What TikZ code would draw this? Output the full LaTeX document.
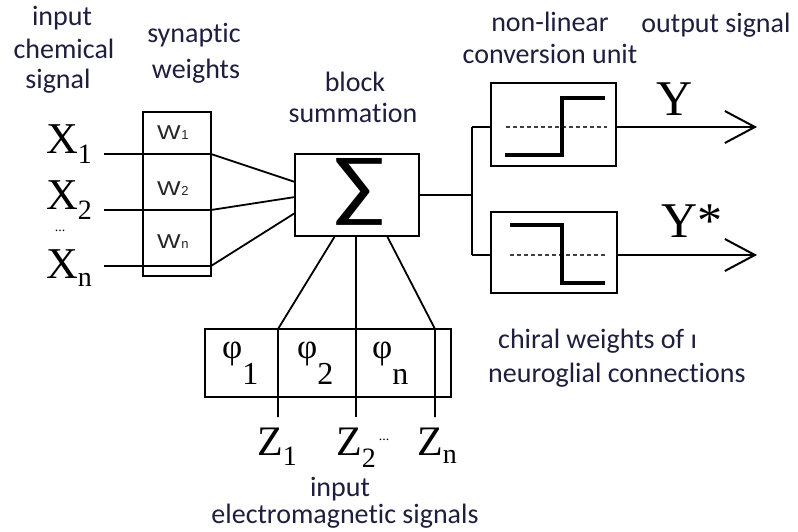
\documentclass[tikz,border=0pt]{standalone}
\usepackage{fontspec}
\setmainfont{Carlito}[Ligatures={NoCommon,NoContextual}]
\newfontfamily\serf{Liberation Serif}
\newfontfamily\sanw{Liberation Sans}
\usetikzlibrary{arrows.meta,calc}
\newcommand{\fs}[1]{\fontsize{#1}{#1}\selectfont}
\newcommand{\mysub}[2][10pt]{\raisebox{-#1}{\fs{28}#2}}
\newcommand{\wlet}[1]{\scalebox{1.25}[1]{W}\hspace{0.5pt}{\fs{13}#1}}
\definecolor{labelc}{RGB}{30,30,62}
\begin{document}
\begin{tikzpicture}[x=1pt,y=-1pt,
  box/.style={draw, line width=2pt, inner sep=0pt, outer sep=0pt},
  wire/.style={line width=1.8pt},
  stepline/.style={line width=3.5pt},
  dashline/.style={line width=1.2pt, black!75, dash pattern=on 4pt off 3pt},
  outarrow/.style={wire, -{Straight Barb[length=30pt,width=32pt,line width=2pt]}},
  lbl/.style={text=labelc, font=\fs{28}, inner sep=0pt, anchor=base},
  lblw/.style={lbl, anchor=base west},
  sym/.style={font=\serf\fs{44}, inner sep=0pt, anchor=base west},
  wlab/.style={font=\sanw\fs{20}, text=black!85, inner sep=0pt, anchor=base west}
]
\useasboundingbox[fill=white] (0,0) rectangle (798,531);

% labels
\node[lbl] (l1) at (62,25) {input};
\node[lbl] (l2) at (64,58) {chemical};
\node[lbl] (l3) at (58,88) {signal};
\node[lbl] (l4) at (194,42) {synaptic};
\node[lbl] (l5) at (196,78) {weights};
\node[lbl] (l6) at (355,91) {block};
\node[lbl] (l7) at (353,122) {summation};
\node[lbl] (l8) at (550,31) {non-linear};
\node[lbl] (l9) at (550,63) {conversion unit};
\node[lbl] (l10) at (716,32) {output signal};
\node[lblw] (l11) at (498,348) {chiral weights of ı};
\node[lblw] (l12) at (488,382) {neuroglial connections};
\node[lbl] (l13) at (340,496) {input};
\node[lbl] (l14) at (345,523) {electromagnetic signals};

% boxes
\node[box, minimum width=68pt, minimum height=164pt] (wb) at (177,194) {};
\node[box, minimum width=124pt, minimum height=82pt] (sum) at (357,195) {};
\node[box, minimum width=125pt, minimum height=83pt] (nl1) at (553.5,124.5) {};
\node[box, minimum width=126pt, minimum height=81pt] (nl2) at (554,252.5) {};
\node[box, minimum width=246pt, minimum height=68pt] (phi) at (328,363) {};

\node[font=\fs{80}, inner sep=0pt] (sig) at (359,192) {\scalebox{1.2}[1]{∑}};

% weights
\node[wlab] (w1) at (157,139) {\wlet{1}};
\node[wlab] (w2) at (157,195) {\wlet{2}};
\node[wlab] (w3) at (157,248) {\wlet{n}};

% X labels
\node[sym] (x1) at (46,153) {X\mysub{1}};
\node[sym] (x2) at (46,209) {X\mysub{2}};
\node[font=\serf\fs{14}, inner sep=0pt] (xd) at (60,231) {...};
\node[sym] (x3) at (46,278) {X\mysub[8pt]{n}};

% inputs
\coordinate (a1) at (104,154);
\coordinate (a2) at (104,210);
\coordinate (a3) at (104,266);
\draw[wire] (a1) -- (a1 -| wb.east) -- ($(sum.west)+(0,-13)$);
\draw[wire] (a2) -- (a2 -| wb.east) -- ($(sum.west)+(0,2)$);
\draw[wire] (a3) -- (a3 -| wb.east) -- ($(sum.west)+(0,18)$);

% output split
\coordinate (j1) at (472,127);
\coordinate (j2) at (472,255);
\draw[wire] (sum.east) -- (sum.east -| j1);
\draw[wire] (j1) -- (j2);
\draw[wire] (j1) -- (j1 -| nl1.west);
\draw[wire] (j2) -- (j2 -| nl2.west);
\coordinate (e1) at (757,127);
\coordinate (e2) at (757,255);
\draw[outarrow] (j1 -| nl1.east) -- (e1);
\draw[outarrow] (j2 -| nl2.east) -- (e2);

% step functions
\draw[dashline] (506,127) -- (607,127);
\draw[stepline] (505,155) -- (562,155) -- (562,98) -- (605,98);
\draw[dashline] (510,255) -- (605,255);
\draw[stepline] (510,225) -- (562,225) -- (562,283) -- (605,283);

\node[font=\serf\fs{50}, inner sep=0pt, anchor=base west] (y1) at (656,115) {Y};
\node[font=\serf\fs{50}, inner sep=0pt, anchor=base west] (y2) at (661,237) {Y*};

% chiral connections
\coordinate (s1) at ($(sum.south)+(-22,0)$);
\coordinate (s2) at ($(sum.south)+(-1,0)$);
\coordinate (s3) at ($(sum.south)+(30,0)$);
\coordinate (d1) at (278,329);
\coordinate (d2) at (356,329);
\coordinate (d3) at (435,329);
\coordinate (z1) at (278,417);
\coordinate (z2) at (356,417);
\coordinate (z3) at (435,417);
\draw[wire] (s1) -- (d1) -- (z1);
\draw[wire] (s2) -- (d2) -- (z2);
\draw[wire] (s3) -- (d3) -- (z3);

% phi labels
\node[font=\serf\fs{35}, inner sep=0pt, anchor=base west] (p1) at (222,358) {φ\raisebox{-26pt}{\fs{32}1}};
\node[font=\serf\fs{35}, inner sep=0pt, anchor=base west] (p2) at (297,358) {φ\raisebox{-26pt}{\fs{32}2}};
\node[font=\serf\fs{35}, inner sep=0pt, anchor=base west] (p3) at (372,358) {φ\raisebox{-26pt}{\fs{32}n}};

% Z labels
\node[font=\serf\fs{42}, inner sep=0pt, anchor=base west] (zl1) at (257,455) {Z\mysub{1}};
\node[font=\serf\fs{42}, inner sep=0pt, anchor=base west] (zl2) at (336,455) {Z\mysub[12pt]{2}\hspace{3pt}\raisebox{15pt}{\fs{14}...}};
\node[font=\serf\fs{42}, inner sep=0pt, anchor=base west] (zl3) at (417,455) {Z\mysub[8pt]{n}};
\end{tikzpicture}
\end{document}
